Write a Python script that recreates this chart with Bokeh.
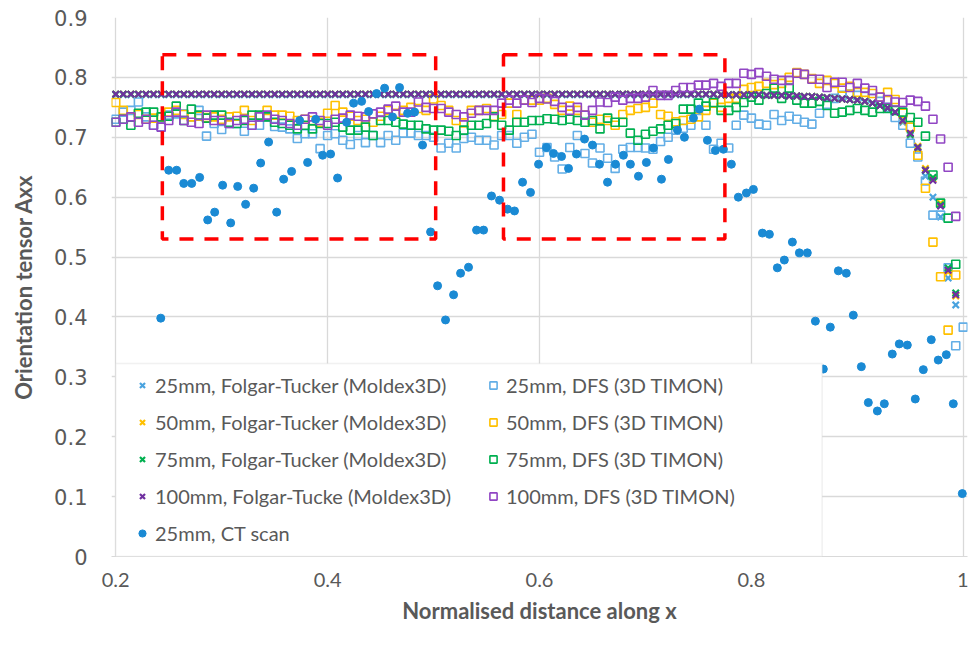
from bokeh.plotting import figure
from bokeh.models import Range1d, FixedTicker, Legend, LegendItem, BoxAnnotation
from bokeh.embed import file_html
from bokeh.resources import INLINE

nan = float("nan")

# sampling positions shared by the simulation series (normalised distance)
X = [0.2, 0.2071, 0.2143, 0.2214, 0.2286, 0.2357, 0.2429, 0.25, 0.2571, 0.2643, 0.2714, 0.2786, 0.2857, 0.2929,
     0.3, 0.3071, 0.3143, 0.3214, 0.3286, 0.3357, 0.3429, 0.35, 0.3571, 0.3643, 0.3714, 0.3786, 0.3857, 0.3929,
     0.4, 0.4071, 0.4143, 0.4214, 0.4286, 0.4357, 0.4429, 0.45, 0.4571, 0.4643, 0.4714, 0.4786, 0.4857, 0.4929,
     0.5, 0.5071, 0.5143, 0.5214, 0.5286, 0.5357, 0.5429, 0.55, 0.5571, 0.5643, 0.5714, 0.5786, 0.5857, 0.5929,
     0.6, 0.6071, 0.6143, 0.6214, 0.6286, 0.6357, 0.6429, 0.65, 0.6571, 0.6643, 0.6714, 0.6786, 0.6857, 0.6929,
     0.7, 0.7071, 0.7143, 0.7214, 0.7286, 0.7357, 0.7429, 0.75, 0.7571, 0.7643, 0.7714, 0.7786, 0.7857, 0.7929,
     0.8, 0.8071, 0.8143, 0.8214, 0.8286, 0.8357, 0.8429, 0.85, 0.8571, 0.8643, 0.8714, 0.8786, 0.8857, 0.8929,
     0.9, 0.9071, 0.9143, 0.9214, 0.9286, 0.9357, 0.9429, 0.95, 0.9571, 0.9643, 0.9714, 0.9786, 0.9857, 0.9929,
     1.0]

# Folgar-Tucker (Moldex3D), 112 samples
FT_25 = [0.771, 0.771, 0.771, 0.771, 0.771, 0.771, 0.771, 0.771, 0.771, 0.771, 0.771, 0.771, 0.771, 0.771,
         0.771, 0.771, 0.771, 0.771, 0.771, 0.771, 0.771, 0.771, 0.771, 0.771, 0.771, 0.771, 0.771, 0.771,
         0.771, 0.771, 0.771, 0.771, 0.771, 0.771, 0.771, 0.771, 0.771, 0.771, 0.771, 0.771, 0.771, 0.771,
         0.771, 0.771, 0.771, 0.771, 0.771, 0.771, 0.771, 0.771, 0.771, 0.771, 0.771, 0.771, 0.771, 0.771,
         0.771, 0.771, 0.771, 0.771, 0.771, 0.771, 0.771, 0.771, 0.771, 0.771, 0.771, 0.771, 0.771, 0.771,
         0.771, 0.771, 0.771, 0.771, 0.771, 0.771, 0.771, 0.771, 0.771, 0.771, 0.771, 0.771, 0.771, 0.771,
         0.771, 0.771, 0.770, 0.770, 0.770, 0.769, 0.769, 0.768, 0.768, 0.767, 0.766, 0.765, 0.764, 0.763,
         0.762, 0.760, 0.757, 0.753, 0.749, 0.742, 0.725, 0.703, 0.680, 0.635, 0.600, 0.567, 0.465, 0.420]
FT_50 = [0.772, 0.772, 0.772, 0.772, 0.772, 0.772, 0.772, 0.772, 0.772, 0.772, 0.772, 0.772, 0.772, 0.772,
         0.772, 0.772, 0.772, 0.772, 0.772, 0.772, 0.772, 0.772, 0.772, 0.772, 0.772, 0.772, 0.772, 0.772,
         0.772, 0.772, 0.772, 0.772, 0.772, 0.772, 0.772, 0.772, 0.772, 0.772, 0.772, 0.772, 0.772, 0.772,
         0.772, 0.772, 0.772, 0.772, 0.772, 0.772, 0.772, 0.772, 0.772, 0.772, 0.772, 0.772, 0.772, 0.772,
         0.772, 0.772, 0.772, 0.772, 0.772, 0.772, 0.772, 0.772, 0.772, 0.772, 0.772, 0.772, 0.772, 0.772,
         0.772, 0.772, 0.772, 0.772, 0.772, 0.772, 0.772, 0.772, 0.772, 0.772, 0.771, 0.771, 0.771, 0.771,
         0.771, 0.771, 0.770, 0.770, 0.770, 0.769, 0.769, 0.768, 0.768, 0.767, 0.766, 0.765, 0.764, 0.763,
         0.762, 0.760, 0.757, 0.753, 0.749, 0.742, 0.727, 0.705, 0.685, 0.648, 0.630, 0.590, 0.475, 0.435]
FT_75 = [0.772, 0.772, 0.772, 0.772, 0.772, 0.772, 0.772, 0.772, 0.772, 0.772, 0.772, 0.772, 0.772, 0.772,
         0.772, 0.772, 0.772, 0.772, 0.772, 0.772, 0.772, 0.772, 0.772, 0.772, 0.772, 0.772, 0.772, 0.772,
         0.772, 0.772, 0.772, 0.772, 0.772, 0.772, 0.772, 0.772, 0.772, 0.772, 0.772, 0.772, 0.772, 0.772,
         0.772, 0.772, 0.772, 0.772, 0.772, 0.772, 0.772, 0.772, 0.772, 0.772, 0.772, 0.772, 0.772, 0.772,
         0.772, 0.772, 0.772, 0.772, 0.772, 0.772, 0.772, 0.772, 0.772, 0.772, 0.772, 0.772, 0.772, 0.772,
         0.772, 0.772, 0.772, 0.772, 0.772, 0.772, 0.772, 0.772, 0.772, 0.772, 0.771, 0.771, 0.771, 0.771,
         0.771, 0.771, 0.770, 0.770, 0.770, 0.769, 0.769, 0.768, 0.768, 0.767, 0.766, 0.765, 0.764, 0.763,
         0.762, 0.760, 0.757, 0.753, 0.749, 0.742, 0.728, 0.705, 0.683, 0.645, 0.633, 0.587, 0.482, 0.440]
FT_100 = [0.772, 0.772, 0.772, 0.772, 0.772, 0.772, 0.772, 0.772, 0.772, 0.772, 0.772, 0.772, 0.772, 0.772,
          0.772, 0.772, 0.772, 0.772, 0.772, 0.772, 0.772, 0.772, 0.772, 0.772, 0.772, 0.772, 0.772, 0.772,
          0.772, 0.772, 0.772, 0.772, 0.772, 0.772, 0.772, 0.772, 0.772, 0.772, 0.772, 0.772, 0.772, 0.772,
          0.772, 0.772, 0.772, 0.772, 0.772, 0.772, 0.772, 0.772, 0.772, 0.772, 0.772, 0.772, 0.772, 0.772,
          0.772, 0.772, 0.772, 0.772, 0.772, 0.772, 0.772, 0.772, 0.772, 0.772, 0.772, 0.772, 0.772, 0.772,
          0.772, 0.772, 0.772, 0.772, 0.772, 0.772, 0.772, 0.772, 0.772, 0.772, 0.771, 0.771, 0.771, 0.771,
          0.771, 0.771, 0.770, 0.770, 0.770, 0.769, 0.769, 0.768, 0.768, 0.767, 0.766, 0.765, 0.764, 0.763,
          0.762, 0.760, 0.757, 0.753, 0.749, 0.742, 0.728, 0.707, 0.683, 0.645, 0.628, 0.585, 0.478, 0.437]

# DFS (3D TIMON), 113 samples
DFS_25 = [0.730, 0.742, 0.745, 0.759, 0.734, 0.720, 0.717, 0.737, 0.739, 0.739, 0.734, 0.745, 0.702, 0.723,
          0.713, 0.723, 0.723, 0.710, 0.720, 0.720, 0.734, 0.718, 0.717, 0.714, 0.698, 0.706, 0.706, 0.681,
          0.703, 0.706, 0.695, 0.688, 0.703, 0.691, 0.703, 0.691, 0.703, 0.695, 0.707, 0.707, 0.703, 0.703,
          0.700, 0.682, 0.690, 0.682, 0.698, 0.700, 0.695, 0.695, 0.687, 0.703, 0.703, 0.690, 0.700, 0.705,
          0.675, 0.683, 0.667, 0.647, 0.683, 0.703, 0.673, 0.657, 0.682, 0.665, 0.648, 0.680, 0.683, 0.683,
          0.682, 0.680, 0.693, 0.700, 0.712, 0.715, 0.720, 0.745, 0.720, 0.680, 0.690, 0.682, 0.720, 0.737,
          0.732, 0.722, 0.720, 0.738, 0.728, 0.735, 0.730, 0.725, 0.722, 0.740, 0.755, 0.765, 0.770, 0.772,
          0.770, 0.768, 0.765, 0.760, 0.750, 0.733, 0.720, 0.690, 0.667, 0.627, 0.570, 0.570, 0.482, 0.352,
          0.383]
DFS_50 = [0.758, 0.745, 0.734, 0.738, 0.730, 0.732, 0.734, 0.742, 0.745, 0.738, 0.734, 0.735, 0.733, 0.734,
          0.730, 0.734, 0.735, 0.745, 0.728, 0.735, 0.745, 0.737, 0.737, 0.735, 0.728, 0.730, 0.728, 0.725,
          0.740, 0.753, 0.742, 0.735, 0.728, 0.730, 0.725, 0.735, 0.745, 0.740, 0.745, 0.750, 0.748, 0.745,
          0.764, 0.753, 0.745, 0.728, 0.724, 0.745, 0.745, 0.748, 0.735, 0.738, 0.757, 0.738, 0.762, 0.762,
          0.762, 0.765, 0.755, 0.745, 0.752, 0.745, 0.737, 0.725, 0.730, 0.728, 0.720, 0.738, 0.745, 0.748,
          0.750, 0.757, 0.738, 0.735, 0.726, 0.728, 0.730, 0.734, 0.745, 0.757, 0.750, 0.765, 0.765, 0.780,
          0.783, 0.785, 0.790, 0.788, 0.790, 0.800, 0.808, 0.805, 0.798, 0.790, 0.795, 0.790, 0.782, 0.785,
          0.775, 0.775, 0.773, 0.767, 0.775, 0.763, 0.740, 0.717, 0.670, 0.615, 0.525, 0.467, 0.378, 0.470,
          nan]
DFS_75 = [0.725, 0.730, 0.720, 0.740, 0.742, 0.742, 0.734, 0.735, 0.752, 0.728, 0.747, 0.737, 0.732, 0.737,
          0.737, 0.725, 0.723, 0.728, 0.737, 0.737, 0.734, 0.725, 0.723, 0.720, 0.714, 0.720, 0.714, 0.723,
          0.723, 0.725, 0.717, 0.712, 0.712, 0.717, 0.703, 0.728, 0.728, 0.725, 0.722, 0.720, 0.720, 0.714,
          0.712, 0.712, 0.710, 0.703, 0.712, 0.720, 0.720, 0.723, 0.734, 0.720, 0.712, 0.725, 0.725, 0.728,
          0.728, 0.731, 0.730, 0.728, 0.730, 0.728, 0.725, 0.728, 0.714, 0.732, 0.725, 0.725, 0.707, 0.695,
          0.705, 0.710, 0.714, 0.720, 0.723, 0.747, 0.747, 0.757, 0.752, 0.758, 0.745, 0.745, 0.750, 0.758,
          0.767, 0.762, 0.773, 0.782, 0.765, 0.782, 0.762, 0.757, 0.757, 0.760, 0.753, 0.740, 0.742, 0.745,
          0.748, 0.745, 0.742, 0.748, 0.748, 0.745, 0.742, 0.733, 0.725, 0.702, 0.637, 0.590, 0.565, 0.488,
          nan]
DFS_100 = [0.725, 0.730, 0.734, 0.725, 0.730, 0.720, 0.717, 0.728, 0.742, 0.728, 0.725, 0.723, 0.737, 0.728,
           0.728, 0.723, 0.728, 0.730, 0.720, 0.734, 0.737, 0.730, 0.728, 0.723, 0.720, 0.730, 0.734, 0.728,
           0.720, 0.730, 0.732, 0.737, 0.735, 0.734, 0.739, 0.742, 0.747, 0.752, 0.742, 0.742, 0.759, 0.750,
           0.748, 0.748, 0.742, 0.738, 0.734, 0.740, 0.745, 0.745, 0.745, 0.757, 0.762, 0.757, 0.762, 0.758,
           0.765, 0.764, 0.760, 0.750, 0.745, 0.750, 0.737, 0.745, 0.759, 0.758, 0.767, 0.762, 0.765, 0.765,
           0.767, 0.778, 0.770, 0.770, 0.778, 0.783, 0.783, 0.787, 0.787, 0.790, 0.785, 0.790, 0.790, 0.807,
           0.805, 0.808, 0.802, 0.797, 0.795, 0.795, 0.807, 0.805, 0.797, 0.797, 0.783, 0.792, 0.792, 0.783,
           0.790, 0.782, 0.778, 0.767, 0.763, 0.759, 0.758, 0.762, 0.760, 0.752, 0.730, 0.697, 0.650, 0.568,
           nan]

# CT scan, 25 mm
CT_X = [0.2425, 0.2500, 0.2575, 0.2642, 0.2717, 0.2792, 0.2868, 0.2934, 0.3009, 0.3085, 0.3151, 0.3226,
        0.3302, 0.3368, 0.3443, 0.3519, 0.3585, 0.3660, 0.3736, 0.3811, 0.3887, 0.3953, 0.4028, 0.4094,
        0.4179, 0.4245, 0.4321, 0.4387, 0.4462, 0.4538, 0.4613, 0.4679, 0.4755, 0.4821, 0.4896, 0.4972,
        0.5038, 0.5113, 0.5189, 0.5255, 0.5330, 0.5406, 0.5472, 0.5547, 0.5623, 0.5698, 0.5764, 0.5840,
        0.5915, 0.5991, 0.6066, 0.6132, 0.6208, 0.6274, 0.6349, 0.6425, 0.6500, 0.6566, 0.6642, 0.6717,
        0.6792, 0.6858, 0.6934, 0.7009, 0.7075, 0.7151, 0.7217, 0.7302, 0.7368, 0.7453, 0.7509, 0.7585,
        0.7660, 0.7736, 0.7811, 0.7877, 0.7953, 0.8019, 0.8104, 0.8170, 0.8245, 0.8311, 0.8387, 0.8453,
        0.8528, 0.8604, 0.8679, 0.8745, 0.8821, 0.8896, 0.8962, 0.9038, 0.9104, 0.9189, 0.9255, 0.9330,
        0.9396, 0.9472, 0.9547, 0.9623, 0.9698, 0.9764, 0.9840, 0.9906, 0.9991]
CT_Y = [0.398, 0.645, 0.645, 0.623, 0.623, 0.633, 0.562, 0.575, 0.620, 0.557, 0.618, 0.588,
        0.615, 0.657, 0.692, 0.575, 0.630, 0.643, 0.728, 0.658, 0.730, 0.670, 0.672, 0.632,
        0.725, 0.757, 0.760, 0.743, 0.773, 0.782, 0.734, 0.783, 0.740, 0.742, 0.687, 0.542,
        0.452, 0.395, 0.437, 0.473, 0.483, 0.545, 0.545, 0.602, 0.595, 0.580, 0.577, 0.625,
        0.608, 0.655, 0.683, 0.673, 0.668, 0.648, 0.672, 0.697, 0.687, 0.655, 0.625, 0.655,
        0.670, 0.655, 0.635, 0.658, 0.682, 0.630, 0.663, 0.712, 0.700, 0.732, 0.747, 0.695,
        0.678, 0.680, 0.655, 0.600, 0.607, 0.613, 0.540, 0.538, 0.482, 0.495, 0.525, 0.507,
        0.507, 0.393, 0.313, 0.383, 0.477, 0.473, 0.403, 0.317, 0.257, 0.243, 0.255, 0.338,
        0.355, 0.353, 0.263, 0.312, 0.362, 0.328, 0.337, 0.255, 0.105]

# highlighted regions (red dashed boxes)
REG_LEFT = [0.244, 0.566]
REG_RIGHT = [0.502, 0.775]
REG_BOTTOM = [0.53, 0.53]
REG_TOP = [0.838, 0.838]

X_TICKS = [0.2, 0.4, 0.6, 0.8, 1.0]
X_TICK_LABELS = ["0.2", "0.4", "0.6", "0.8", "1"]
Y_TICKS = [0.0, 0.1, 0.2, 0.3, 0.4, 0.5, 0.6, 0.7, 0.8, 0.9]
Y_TICK_LABELS = ["0", "0.1", "0.2", "0.3", "0.4", "0.5", "0.6", "0.7", "0.8", "0.9"]

C25_FT, C25_DFS = "#4aa3df", "#63aee6"
C50 = "#ffc000"
C75 = "#00b050"
C100_FT, C100_DFS = "#7030a0", "#9146c4"
C_CT = "#1a8ad4"
GRAY_TXT = "#595959"
GRID = "#d9d9d9"

p = figure(frame_width=856, frame_height=539,
           x_range=Range1d(0.196, 1.004), y_range=Range1d(0, 0.9),
           output_backend="svg", toolbar_location=None,
           min_border_left=111, min_border_right=1, min_border_top=17, min_border_bottom=90)
p.outline_line_color = None
p.background_fill_color = "white"
p.border_fill_color = "white"

p.xaxis.ticker = FixedTicker(ticks=X_TICKS)
p.xaxis.major_label_overrides = dict(zip(X_TICKS, X_TICK_LABELS))
p.yaxis.ticker = FixedTicker(ticks=Y_TICKS)
p.yaxis.major_label_overrides = dict(zip(Y_TICKS, Y_TICK_LABELS))
p.xgrid.ticker = FixedTicker(ticks=X_TICKS)
p.ygrid.ticker = FixedTicker(ticks=Y_TICKS)
for g in (p.xgrid, p.ygrid):
    g.grid_line_color = GRID
    g.grid_line_width = 1.3

for ax in (p.xaxis, p.yaxis):
    ax.major_tick_line_color = None
    ax.minor_tick_line_color = None
    ax.major_label_text_color = GRAY_TXT
    ax.axis_label_text_color = GRAY_TXT
    ax.axis_label_text_font = "Lato"
    ax.axis_label_text_font_style = "bold"
    ax.axis_label_text_font_size = "22px"
p.xaxis.axis_line_color = GRID
p.yaxis.axis_line_color = None
p.xaxis.major_label_text_font = "Lato"
p.xaxis.major_label_text_font_size = "20px"
p.xaxis.major_label_standoff = 10
p.yaxis.major_label_text_font = "DejaVu Sans"
p.yaxis.major_label_text_font_size = "21px"
p.yaxis.major_label_standoff = 18
p.xaxis.axis_label = "Normalised distance along x"
p.yaxis.axis_label = "Orientation tensor Axx"
p.xaxis.axis_label_standoff = 7
p.yaxis.axis_label_standoff = 14

XF = X[:len(FT_25)]
r_ft25 = p.scatter(XF, FT_25, marker="x", size=9, line_color=C25_FT, line_width=2.2)
r_dfs25 = p.scatter(X, DFS_25, marker="square", size=8, fill_alpha=0, line_color=C25_DFS, line_width=1.6)
r_ft50 = p.scatter(XF, FT_50, marker="x", size=9, line_color=C50, line_width=2.2)
r_dfs50 = p.scatter(X, DFS_50, marker="square", size=8, fill_alpha=0, line_color=C50, line_width=1.6)
r_ft75 = p.scatter(XF, FT_75, marker="x", size=9, line_color=C75, line_width=2.2)
r_dfs75 = p.scatter(X, DFS_75, marker="square", size=8, fill_alpha=0, line_color=C75, line_width=1.6)
r_ft100 = p.scatter(XF, FT_100, marker="x", size=9, line_color=C100_FT, line_width=2.2)
r_dfs100 = p.scatter(X, DFS_100, marker="square", size=8, fill_alpha=0, line_color=C100_DFS, line_width=1.6)
r_ct = p.scatter(CT_X, CT_Y, marker="circle", size=8, fill_color=C_CT, line_color=C_CT)

p.quad(left=REG_LEFT, right=REG_RIGHT, bottom=REG_BOTTOM, top=REG_TOP,
       fill_alpha=0, line_color="#ff0000", line_width=3.5, line_dash="14 11")

# legend panel
box = BoxAnnotation(left=0.2, right=0.8668, bottom=0.0, top=0.3223,
                    fill_color="white", fill_alpha=1.0, line_color="#d0d0d0", line_width=1.5)
p.add_layout(box)

leg_style = dict(background_fill_alpha=0, border_line_color=None,
                 label_text_font="Lato", label_text_font_size="20px", label_text_color=GRAY_TXT,
                 glyph_width=18, glyph_height=18, label_height=24, spacing=13,
                 padding=0, margin=0, label_standoff=4)
leg1 = Legend(items=[LegendItem(label="25mm, Folgar-Tucker (Moldex3D)", renderers=[r_ft25]),
                     LegendItem(label="50mm, Folgar-Tucker (Moldex3D)", renderers=[r_ft50]),
                     LegendItem(label="75mm, Folgar-Tucker (Moldex3D)", renderers=[r_ft75]),
                     LegendItem(label="100mm, Folgar-Tucke (Moldex3D)", renderers=[r_ft100]),
                     LegendItem(label="25mm, CT scan", renderers=[r_ct])],
              location=(22, 11), **leg_style)
leg2 = Legend(items=[LegendItem(label="25mm, DFS (3D TIMON)", renderers=[r_dfs25]),
                     LegendItem(label="50mm, DFS (3D TIMON)", renderers=[r_dfs50]),
                     LegendItem(label="75mm, DFS (3D TIMON)", renderers=[r_dfs75]),
                     LegendItem(label="100mm, DFS (3D TIMON)", renderers=[r_dfs100])],
              location=(373, 48), **leg_style)
p.add_layout(leg1, "center")
p.add_layout(leg2, "center")

open("out.html", "w").write(file_html(p, INLINE))
